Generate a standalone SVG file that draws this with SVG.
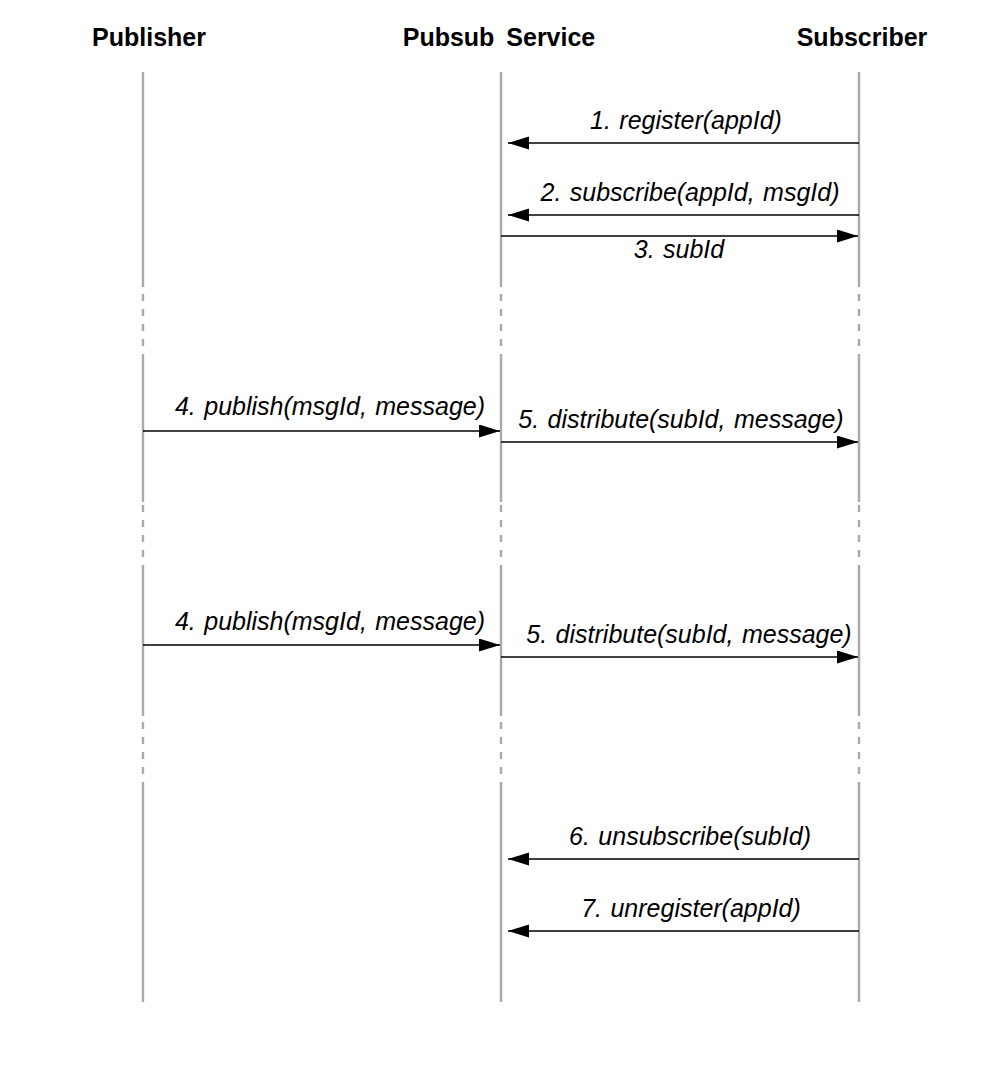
<svg xmlns="http://www.w3.org/2000/svg" width="1002" height="1074" viewBox="0 0 1002 1074">
<style>
.hdr{font-family:"Liberation Sans",Arial,sans-serif;font-weight:bold;font-size:25px;fill:#000;text-anchor:middle}
.lbl{font-family:"Liberation Sans",Arial,sans-serif;font-style:italic;font-size:25px;fill:#000;text-anchor:middle;word-spacing:1.5px}
.life{stroke:#a9a9a9;stroke-width:2.4;fill:none}
.dash{stroke:#a9a9a9;stroke-width:2.4;fill:none;stroke-dasharray:7 8}
.msg{stroke:#000;stroke-width:1.4;fill:none;marker-end:url(#arr)}
</style>
<defs>
<marker id="arr" markerUnits="userSpaceOnUse" markerWidth="22" markerHeight="14" refX="21" refY="6.5" orient="auto">
<path d="M0,0 L21,6.5 L0,13 Z" fill="#000"/>
</marker>
</defs>
<rect width="1002" height="1074" fill="#fff"/>
<g id="publisher">
<text class="hdr" x="149" y="46">Publisher</text>
<line class="life" x1="143" y1="72" x2="143" y2="287"/>
<line class="dash" x1="143" y1="294" x2="143" y2="355"/>
<line class="life" x1="143" y1="355" x2="143" y2="502"/>
<line class="dash" x1="143" y1="505" x2="143" y2="572"/>
<line class="life" x1="143" y1="572" x2="143" y2="716"/>
<line class="dash" x1="143" y1="722" x2="143" y2="787"/>
<line class="life" x1="143" y1="787" x2="143" y2="1002"/>
</g>
<g id="pubsub-service">
<text class="hdr" x="499" y="46" style="word-spacing:5px">Pubsub Service</text>
<line class="life" x1="501" y1="72" x2="501" y2="287"/>
<line class="dash" x1="501" y1="294" x2="501" y2="355"/>
<line class="life" x1="501" y1="355" x2="501" y2="502"/>
<line class="dash" x1="501" y1="505" x2="501" y2="572"/>
<line class="life" x1="501" y1="572" x2="501" y2="716"/>
<line class="dash" x1="501" y1="722" x2="501" y2="787"/>
<line class="life" x1="501" y1="787" x2="501" y2="1002"/>
</g>
<g id="subscriber">
<text class="hdr" x="862" y="46">Subscriber</text>
<line class="life" x1="859" y1="72" x2="859" y2="287"/>
<line class="dash" x1="859" y1="294" x2="859" y2="355"/>
<line class="life" x1="859" y1="355" x2="859" y2="502"/>
<line class="dash" x1="859" y1="505" x2="859" y2="572"/>
<line class="life" x1="859" y1="572" x2="859" y2="716"/>
<line class="dash" x1="859" y1="722" x2="859" y2="787"/>
<line class="life" x1="859" y1="787" x2="859" y2="1002"/>
</g>
<g id="connectors">
<line class="msg" x1="859" y1="143" x2="508" y2="143"/>
<text class="lbl" x="686" y="129">1. register(appId)</text>
<line class="msg" x1="859" y1="215" x2="508" y2="215"/>
<text class="lbl" x="690" y="201">2. subscribe(appId, msgId)</text>
<line class="msg" x1="501" y1="236" x2="858" y2="236"/>
<text class="lbl" x="679" y="258">3. subId</text>
<line class="msg" x1="143" y1="431" x2="500" y2="431"/>
<text class="lbl" x="330" y="415">4. publish(msgId, message)</text>
<line class="msg" x1="501" y1="442" x2="858" y2="442"/>
<text class="lbl" x="681" y="428">5. distribute(subId, message)</text>
<line class="msg" x1="143" y1="645" x2="500" y2="645"/>
<text class="lbl" x="330" y="630">4. publish(msgId, message)</text>
<line class="msg" x1="501" y1="657" x2="858" y2="657"/>
<text class="lbl" x="689" y="643">5. distribute(subId, message)</text>
<line class="msg" x1="859" y1="859" x2="508" y2="859"/>
<text class="lbl" x="690" y="845">6. unsubscribe(subId)</text>
<line class="msg" x1="859" y1="931" x2="508" y2="931"/>
<text class="lbl" x="691" y="917">7. unregister(appId)</text>
</g>
</svg>
